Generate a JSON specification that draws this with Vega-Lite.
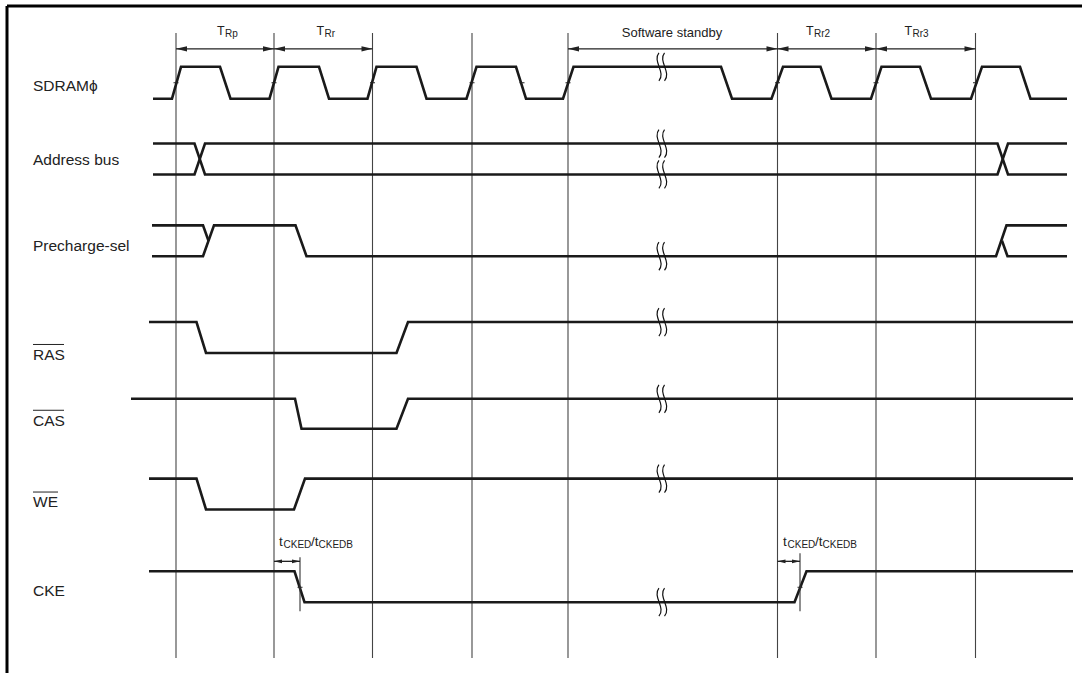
{
  "$schema": "https://vega.github.io/schema/vega-lite/v6.json",
  "width": 1092,
  "height": 675,
  "padding": 0,
  "autosize": {"type": "fit", "contains": "padding"},
  "background": "white",
  "config": {"view": {"stroke": null}},
  "datasets": {
    "sig": [
      {"s": "clk", "x": 153, "y": 99}, {"s": "clk", "x": 172, "y": 99}, {"s": "clk", "x": 181, "y": 67}, {"s": "clk", "x": 220, "y": 67},
      {"s": "clk", "x": 230.5, "y": 99}, {"s": "clk", "x": 269.5, "y": 99}, {"s": "clk", "x": 278.5, "y": 67}, {"s": "clk", "x": 319, "y": 67},
      {"s": "clk", "x": 329, "y": 99}, {"s": "clk", "x": 367.5, "y": 99}, {"s": "clk", "x": 376.5, "y": 67}, {"s": "clk", "x": 416.5, "y": 67},
      {"s": "clk", "x": 426.5, "y": 99}, {"s": "clk", "x": 466.5, "y": 99}, {"s": "clk", "x": 476.5, "y": 67}, {"s": "clk", "x": 516, "y": 67},
      {"s": "clk", "x": 526, "y": 99}, {"s": "clk", "x": 563, "y": 99}, {"s": "clk", "x": 573.5, "y": 67}, {"s": "clk", "x": 721, "y": 67},
      {"s": "clk", "x": 732, "y": 99}, {"s": "clk", "x": 771.5, "y": 99}, {"s": "clk", "x": 783, "y": 67}, {"s": "clk", "x": 820.5, "y": 67},
      {"s": "clk", "x": 831.5, "y": 99}, {"s": "clk", "x": 871, "y": 99}, {"s": "clk", "x": 881.5, "y": 67}, {"s": "clk", "x": 920, "y": 67},
      {"s": "clk", "x": 931, "y": 99}, {"s": "clk", "x": 971, "y": 99}, {"s": "clk", "x": 982, "y": 67}, {"s": "clk", "x": 1020, "y": 67},
      {"s": "clk", "x": 1030.5, "y": 99}, {"s": "clk", "x": 1067, "y": 99},
      {"s": "a1", "x": 153, "y": 144}, {"s": "a1", "x": 194.5, "y": 144}, {"s": "a1", "x": 205, "y": 175}, {"s": "a1", "x": 997.5, "y": 175}, {"s": "a1", "x": 1008, "y": 144}, {"s": "a1", "x": 1067, "y": 144},
      {"s": "a2", "x": 153, "y": 175}, {"s": "a2", "x": 194.5, "y": 175}, {"s": "a2", "x": 205, "y": 144}, {"s": "a2", "x": 997.5, "y": 144}, {"s": "a2", "x": 1008, "y": 175}, {"s": "a2", "x": 1067, "y": 175},
      {"s": "p1", "x": 152, "y": 226}, {"s": "p1", "x": 203, "y": 226}, {"s": "p1", "x": 208.5, "y": 241.5},
      {"s": "p2", "x": 152, "y": 257}, {"s": "p2", "x": 203, "y": 257}, {"s": "p2", "x": 214, "y": 226}, {"s": "p2", "x": 295.5, "y": 226}, {"s": "p2", "x": 306.5, "y": 257}, {"s": "p2", "x": 996, "y": 257}, {"s": "p2", "x": 1006.5, "y": 226}, {"s": "p2", "x": 1067, "y": 226},
      {"s": "p3", "x": 1002, "y": 241.5}, {"s": "p3", "x": 1007.5, "y": 257}, {"s": "p3", "x": 1067, "y": 257},
      {"s": "ras", "x": 149, "y": 323}, {"s": "ras", "x": 196.5, "y": 323}, {"s": "ras", "x": 206, "y": 354}, {"s": "ras", "x": 396.5, "y": 354}, {"s": "ras", "x": 408, "y": 323}, {"s": "ras", "x": 1073, "y": 323},
      {"s": "cas", "x": 131, "y": 400}, {"s": "cas", "x": 295, "y": 400}, {"s": "cas", "x": 301.5, "y": 430}, {"s": "cas", "x": 396.5, "y": 430}, {"s": "cas", "x": 408, "y": 400}, {"s": "cas", "x": 1073, "y": 400},
      {"s": "we", "x": 149, "y": 480}, {"s": "we", "x": 196.5, "y": 480}, {"s": "we", "x": 206, "y": 511}, {"s": "we", "x": 294, "y": 511}, {"s": "we", "x": 305, "y": 480}, {"s": "we", "x": 1073, "y": 480},
      {"s": "cke", "x": 149, "y": 573}, {"s": "cke", "x": 294.5, "y": 573}, {"s": "cke", "x": 304.5, "y": 604}, {"s": "cke", "x": 794.5, "y": 604}, {"s": "cke", "x": 806.5, "y": 573}, {"s": "cke", "x": 1073, "y": 573}
    ],
    "grid": [{"x": 176, "y": 33, "y2": 660}, {"x": 274, "y": 33, "y2": 660}, {"x": 372.5, "y": 33, "y2": 660}, {"x": 472, "y": 33, "y2": 660}, {"x": 568, "y": 33, "y2": 660}, {"x": 777.5, "y": 33, "y2": 660}, {"x": 876, "y": 33, "y2": 660}, {"x": 975.5, "y": 33, "y2": 660}],
    "frame": [{"x": 7, "x2": 1082, "y": 6, "y2": 6}, {"x": 7, "x2": 7, "y": 6, "y2": 675}],
    "spans": [
      {"x": 176, "x2": 274, "y": 49}, {"x": 274, "x2": 372.5, "y": 49}, {"x": 568, "x2": 777.5, "y": 49},
      {"x": 777.5, "x2": 876, "y": 49}, {"x": 876, "x2": 975.5, "y": 49},
      {"x": 274, "x2": 300, "y": 563}, {"x": 777.5, "x2": 800, "y": 563}
    ],
    "headsBig": [
      {"x": 176, "y": 49, "d": "L"}, {"x": 274, "y": 49, "d": "R"}, {"x": 274, "y": 49, "d": "L"}, {"x": 372.5, "y": 49, "d": "R"},
      {"x": 568, "y": 49, "d": "L"}, {"x": 777.5, "y": 49, "d": "R"}, {"x": 777.5, "y": 49, "d": "L"}, {"x": 876, "y": 49, "d": "R"},
      {"x": 876, "y": 49, "d": "L"}, {"x": 975.5, "y": 49, "d": "R"}
    ],
    "headsSmall": [
      {"x": 274, "y": 563, "d": "L"}, {"x": 300, "y": 563, "d": "R"}, {"x": 777.5, "y": 563, "d": "L"}, {"x": 800, "y": 563, "d": "R"}
    ],
    "markers": [{"x": 300, "y": 559, "y2": 613}, {"x": 800, "y": 555, "y2": 613}],
    "ticks": [
      {"x": 173.5, "x2": 178.5, "y": 83}, {"x": 271.5, "x2": 276.5, "y": 83}, {"x": 370, "x2": 375, "y": 83}, {"x": 469.5, "x2": 474.5, "y": 83},
      {"x": 519.5, "x2": 524.5, "y": 83}, {"x": 565.5, "x2": 570.5, "y": 83}, {"x": 775, "x2": 780, "y": 83}, {"x": 873.5, "x2": 878.5, "y": 83},
      {"x": 973, "x2": 978, "y": 83}, {"x": 297.5, "x2": 302.5, "y": 589}, {"x": 797.5, "x2": 802.5, "y": 589}
    ],
    "breaks": [{"x": 662, "y": 67}, {"x": 662, "y": 144}, {"x": 662, "y": 175}, {"x": 662, "y": 257}, {"x": 662, "y": 323}, {"x": 662, "y": 400}, {"x": 662, "y": 480}, {"x": 662, "y": 604}],
    "sideLabels": [
      {"t": "SDRAMϕ", "x": 33, "y": 91}, {"t": "Address bus", "x": 33, "y": 165.5}, {"t": "Precharge-sel", "x": 33, "y": 252},
      {"t": "RAS", "x": 33, "y": 361}, {"t": "CAS", "x": 33, "y": 427}, {"t": "WE", "x": 33, "y": 509}, {"t": "CKE", "x": 33, "y": 598}
    ],
    "overlines": [{"x": 33, "x2": 64, "y": 345.5}, {"x": 33, "x2": 64, "y": 411.5}, {"x": 33, "x2": 58, "y": 493.5}],
    "bigT": [{"t": "T", "x": 217, "y": 35}, {"t": "T", "x": 316.5, "y": 35}, {"t": "T", "x": 806, "y": 35}, {"t": "T", "x": 904.5, "y": 35}],
    "subs": [
      {"t": "Rp", "x": 225, "y": 37.5}, {"t": "Rr", "x": 324.5, "y": 37.5}, {"t": "Rr2", "x": 814, "y": 37.5}, {"t": "Rr3", "x": 912.5, "y": 37.5},
      {"t": "CKED", "x": 283.5, "y": 549.5}, {"t": "CKEDB", "x": 318.5, "y": 549.5},
      {"t": "CKED", "x": 787.5, "y": 549.5}, {"t": "CKEDB", "x": 822.5, "y": 549.5}
    ],
    "smallT": [
      {"t": "t", "x": 279, "y": 548}, {"t": "/t", "x": 311, "y": 548},
      {"t": "t", "x": 783, "y": 548}, {"t": "/t", "x": 815, "y": 548}
    ],
    "standby": [{"t": "Software standby", "x": 672, "y": 37}]
  },
  "layer": [
    {
      "data": {"name": "frame"},
      "mark": {"type": "rule", "strokeWidth": 3, "color": "#000"},
      "encoding": {
        "x": {"field": "x", "type": "quantitative", "scale": {"domain": [0, 1092], "nice": false, "zero": false}, "axis": null},
        "x2": {"field": "x2"},
        "y": {"field": "y", "type": "quantitative", "scale": {"domain": [0, 675], "reverse": true, "nice": false, "zero": false}, "axis": null},
        "y2": {"field": "y2"}
      }
    },
    {
      "data": {"name": "grid"},
      "mark": {"type": "rule", "strokeWidth": 1.1, "color": "#444"},
      "encoding": {
        "x": {"field": "x", "type": "quantitative", "axis": null},
        "y": {"field": "y", "type": "quantitative", "axis": null},
        "y2": {"field": "y2"}
      }
    },
    {
      "data": {"name": "sig"},
      "mark": {"type": "line", "strokeWidth": 2.6, "color": "#1a1a1a", "strokeJoin": "miter", "strokeCap": "butt"},
      "encoding": {
        "x": {"field": "x", "type": "quantitative", "axis": null},
        "y": {"field": "y", "type": "quantitative", "axis": null},
        "detail": {"field": "s", "type": "nominal"}
      }
    },
    {
      "data": {"name": "ticks"},
      "mark": {"type": "rule", "strokeWidth": 1, "color": "#222"},
      "encoding": {
        "x": {"field": "x", "type": "quantitative", "axis": null},
        "x2": {"field": "x2"},
        "y": {"field": "y", "type": "quantitative", "axis": null}
      }
    },
    {
      "data": {"name": "markers"},
      "mark": {"type": "rule", "strokeWidth": 1.1, "color": "#333"},
      "encoding": {
        "x": {"field": "x", "type": "quantitative", "axis": null},
        "y": {"field": "y", "type": "quantitative", "axis": null},
        "y2": {"field": "y2"}
      }
    },
    {
      "data": {"name": "spans"},
      "mark": {"type": "rule", "strokeWidth": 1.3, "color": "#222"},
      "encoding": {
        "x": {"field": "x", "type": "quantitative", "axis": null},
        "x2": {"field": "x2"},
        "y": {"field": "y", "type": "quantitative", "axis": null}
      }
    },
    {
      "data": {"name": "headsBig"},
      "mark": {"type": "point", "filled": true, "color": "#222", "size": 484, "opacity": 1, "strokeWidth": 0},
      "encoding": {
        "x": {"field": "x", "type": "quantitative", "axis": null},
        "y": {"field": "y", "type": "quantitative", "axis": null},
        "shape": {"field": "d", "type": "nominal", "legend": null,
          "scale": {"domain": ["L", "R"], "range": ["M0,0L1,-0.24L1,0.24Z", "M0,0L-1,-0.24L-1,0.24Z"]}}
      }
    },
    {
      "data": {"name": "headsSmall"},
      "mark": {"type": "point", "filled": true, "color": "#222", "size": 256, "opacity": 1, "strokeWidth": 0},
      "encoding": {
        "x": {"field": "x", "type": "quantitative", "axis": null},
        "y": {"field": "y", "type": "quantitative", "axis": null},
        "shape": {"field": "d", "type": "nominal", "legend": null,
          "scale": {"domain": ["L", "R"], "range": ["M0,0L1,-0.4L1,0.4Z", "M0,0L-1,-0.4L-1,0.4Z"]}}
      }
    },
    {
      "data": {"name": "breaks"},
      "mark": {"type": "point", "filled": false, "color": "#111", "size": 784, "strokeWidth": 1.2, "opacity": 1,
        "shape": "M-0.22,-1C-0.7,-0.4 0.3,0.4 -0.22,1M0.18,-1C-0.3,-0.4 0.7,0.4 0.18,1"},
      "encoding": {
        "x": {"field": "x", "type": "quantitative", "axis": null},
        "y": {"field": "y", "type": "quantitative", "axis": null}
      }
    },
    {
      "data": {"name": "sideLabels"},
      "mark": {"type": "text", "align": "left", "baseline": "alphabetic", "font": "Liberation Sans", "fontSize": 15.5, "color": "#222"},
      "encoding": {
        "x": {"field": "x", "type": "quantitative", "axis": null},
        "y": {"field": "y", "type": "quantitative", "axis": null},
        "text": {"field": "t", "type": "nominal"}
      }
    },
    {
      "data": {"name": "overlines"},
      "mark": {"type": "rule", "strokeWidth": 1, "color": "#222"},
      "encoding": {
        "x": {"field": "x", "type": "quantitative", "axis": null},
        "x2": {"field": "x2"},
        "y": {"field": "y", "type": "quantitative", "axis": null}
      }
    },
    {
      "data": {"name": "bigT"},
      "mark": {"type": "text", "align": "left", "baseline": "alphabetic", "font": "Liberation Sans", "fontSize": 12.5, "color": "#222"},
      "encoding": {
        "x": {"field": "x", "type": "quantitative", "axis": null},
        "y": {"field": "y", "type": "quantitative", "axis": null},
        "text": {"field": "t", "type": "nominal"}
      }
    },
    {
      "data": {"name": "subs"},
      "mark": {"type": "text", "align": "left", "baseline": "alphabetic", "font": "Liberation Sans", "fontSize": 10, "color": "#222"},
      "encoding": {
        "x": {"field": "x", "type": "quantitative", "axis": null},
        "y": {"field": "y", "type": "quantitative", "axis": null},
        "text": {"field": "t", "type": "nominal"}
      }
    },
    {
      "data": {"name": "smallT"},
      "mark": {"type": "text", "align": "left", "baseline": "alphabetic", "font": "Liberation Sans", "fontSize": 13.5, "color": "#222"},
      "encoding": {
        "x": {"field": "x", "type": "quantitative", "axis": null},
        "y": {"field": "y", "type": "quantitative", "axis": null},
        "text": {"field": "t", "type": "nominal"}
      }
    },
    {
      "data": {"name": "standby"},
      "mark": {"type": "text", "align": "center", "baseline": "alphabetic", "font": "Liberation Sans", "fontSize": 13, "color": "#222"},
      "encoding": {
        "x": {"field": "x", "type": "quantitative", "axis": null},
        "y": {"field": "y", "type": "quantitative", "axis": null},
        "text": {"field": "t", "type": "nominal"}
      }
    }
  ]
}
